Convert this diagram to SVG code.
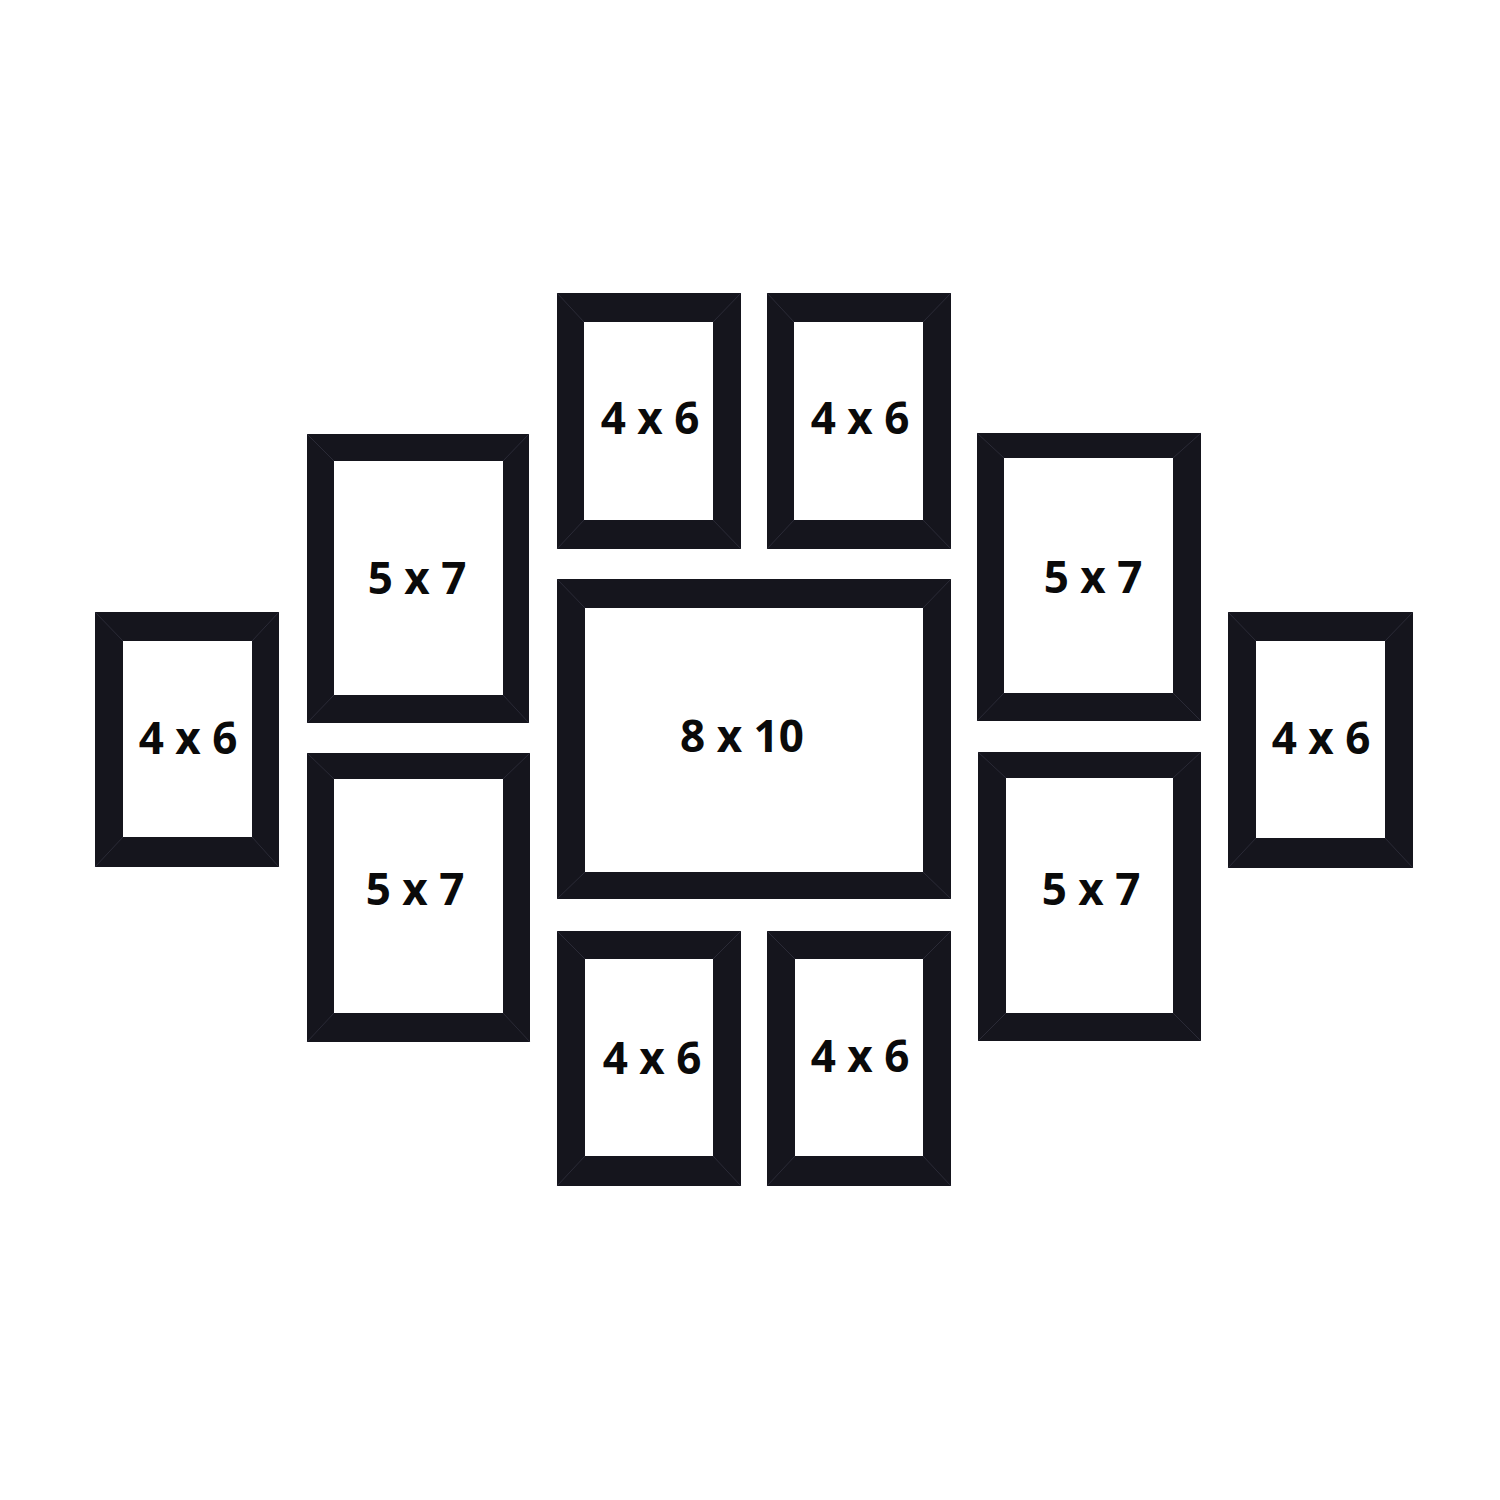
<svg xmlns="http://www.w3.org/2000/svg" width="1500" height="1500" viewBox="0 0 1500 1500">
<style>
.frame{fill:#15151d;fill-rule:evenodd}
.miter{stroke:#2a2a36;stroke-width:1;fill:none}
.lbl{font-family:"Open Sans","Noto Sans","DejaVu Sans",sans-serif;font-weight:bold;font-size:44px;fill:#0a0a0a;text-anchor:middle}
</style>
<rect width="1500" height="1500" fill="#ffffff"/>
<g id="connectors"></g>
<g id="frame-top-left-4x6">
<path class="frame" d="M557 293H741V549H557Z M584 322V520H713V322Z"/>
<path class="miter" d="M557 293L584 322M741 293L713 322M557 549L584 520M741 549L713 520"/>
<text class="lbl" x="650" y="434">4 x 6</text>
</g>
<g id="frame-top-right-4x6">
<path class="frame" d="M767 293H951V549H767Z M794 322V520H923V322Z"/>
<path class="miter" d="M767 293L794 322M951 293L923 322M767 549L794 520M951 549L923 520"/>
<text class="lbl" x="860" y="434">4 x 6</text>
</g>
<g id="frame-left-top-5x7">
<path class="frame" d="M307 434H529V723H307Z M334 461V695H503V461Z"/>
<path class="miter" d="M307 434L334 461M529 434L503 461M307 723L334 695M529 723L503 695"/>
<text class="lbl" x="417" y="594">5 x 7</text>
</g>
<g id="frame-left-bottom-5x7">
<path class="frame" d="M307 753H530V1042H307Z M334 779V1013H503V779Z"/>
<path class="miter" d="M307 753L334 779M530 753L503 779M307 1042L334 1013M530 1042L503 1013"/>
<text class="lbl" x="415" y="905">5 x 7</text>
</g>
<g id="frame-far-left-4x6">
<path class="frame" d="M95 612H279V867H95Z M123 641V837H252V641Z"/>
<path class="miter" d="M95 612L123 641M279 612L252 641M95 867L123 837M279 867L252 837"/>
<text class="lbl" x="188" y="754">4 x 6</text>
</g>
<g id="frame-center-8x10">
<path class="frame" d="M557 579H951V899H557Z M585 608V872H923V608Z"/>
<path class="miter" d="M557 579L585 608M951 579L923 608M557 899L585 872M951 899L923 872"/>
<text class="lbl" x="742" y="752">8 x 10</text>
</g>
<g id="frame-right-top-5x7">
<path class="frame" d="M977 433H1201V721H977Z M1004 458V693H1173V458Z"/>
<path class="miter" d="M977 433L1004 458M1201 433L1173 458M977 721L1004 693M1201 721L1173 693"/>
<text class="lbl" x="1093" y="593">5 x 7</text>
</g>
<g id="frame-right-bottom-5x7">
<path class="frame" d="M978 752H1201V1041H978Z M1006 778V1013H1173V778Z"/>
<path class="miter" d="M978 752L1006 778M1201 752L1173 778M978 1041L1006 1013M1201 1041L1173 1013"/>
<text class="lbl" x="1091" y="905">5 x 7</text>
</g>
<g id="frame-far-right-4x6">
<path class="frame" d="M1228 612H1413V868H1228Z M1256 641V838H1385V641Z"/>
<path class="miter" d="M1228 612L1256 641M1413 612L1385 641M1228 868L1256 838M1413 868L1385 838"/>
<text class="lbl" x="1321" y="754">4 x 6</text>
</g>
<g id="frame-bottom-left-4x6">
<path class="frame" d="M557 931H741V1186H557Z M585 959V1156H713V959Z"/>
<path class="miter" d="M557 931L585 959M741 931L713 959M557 1186L585 1156M741 1186L713 1156"/>
<text class="lbl" x="652" y="1074">4 x 6</text>
</g>
<g id="frame-bottom-right-4x6">
<path class="frame" d="M767 931H951V1186H767Z M795 959V1156H923V959Z"/>
<path class="miter" d="M767 931L795 959M951 931L923 959M767 1186L795 1156M951 1186L923 1156"/>
<text class="lbl" x="860" y="1072">4 x 6</text>
</g>
</svg>
